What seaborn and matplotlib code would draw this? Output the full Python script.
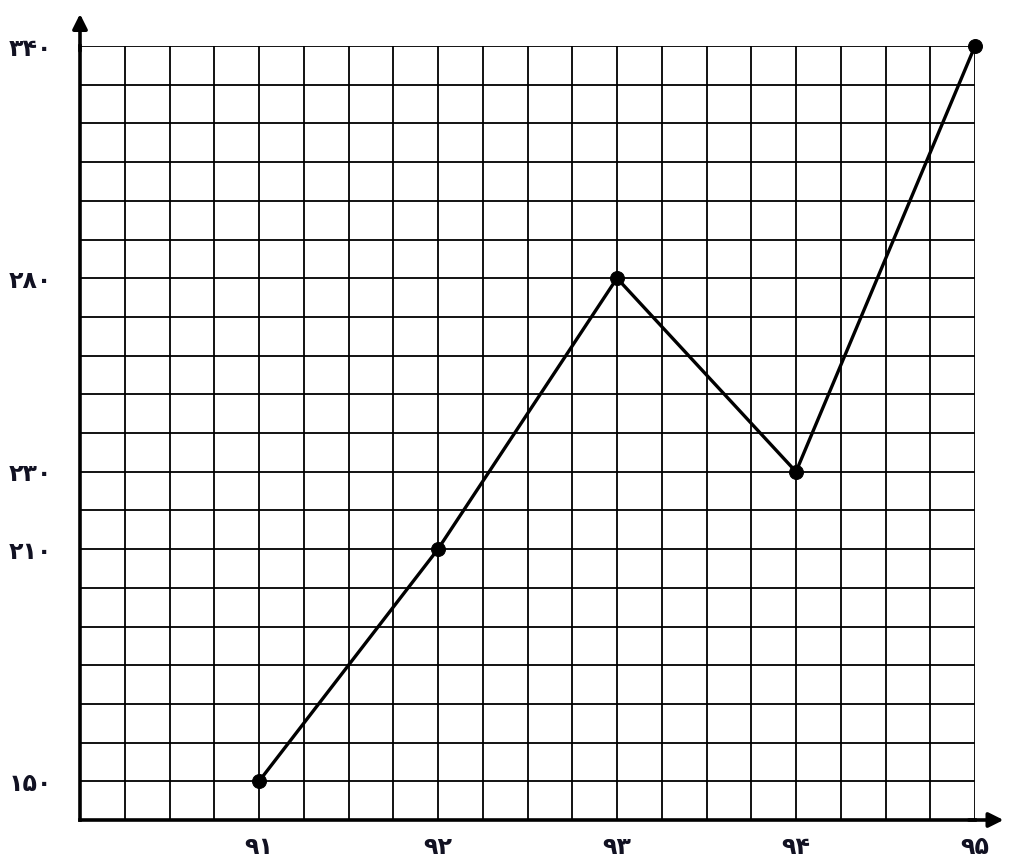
import matplotlib
matplotlib.use("Agg")
import matplotlib.pyplot as plt
import seaborn as sns
import pandas as pd
import numpy as np

years = [91, 92, 93, 94, 95]
values = [150, 210, 280, 230, 340]
x_labels = ["۹۱", "۹۲", "۹۳", "۹۴", "۹۵"]
y_ticks = [150, 210, 230, 280, 340]
y_labels = ["۱۵۰", "۲۱۰", "۲۳۰", "۲۸۰", "۳۴۰"]

sns.set_style("white")
plt.rcParams['font.family'] = ['DejaVu Sans']

df = pd.DataFrame({"year": years, "value": values})

fig = plt.figure(figsize=(10.10, 8.66), dpi=100)
ax = fig.add_axes([80/1010, 46/866, 895/1010, 774/866])

ax.set_xlim(90, 95)
ax.set_ylim(140, 340)

# grid
ax.set_xticks(np.arange(90, 95.001, 0.25), minor=True)
ax.set_yticks(np.arange(140, 340.001, 10), minor=True)
ax.set_xticks(years)
ax.set_xticklabels(x_labels, fontsize=17, fontweight='bold', color='#111122')
ax.set_yticks(y_ticks)
ax.set_yticklabels(y_labels, fontsize=17, fontweight='bold', color='#111122')
ax.grid(which='both', color='black', linewidth=1.3)
ax.tick_params(which='both', length=0)
ax.tick_params(axis='x', pad=11)
ax.tick_params(axis='y', pad=20)

for s in ['top', 'right']:
    ax.spines[s].set_visible(False)
for s in ['left', 'bottom']:
    ax.spines[s].set_linewidth(2.6)
    ax.spines[s].set_color('black')

sns.lineplot(data=df, x="year", y="value", ax=ax, color='black', linewidth=2.4,
             marker='o', markersize=10, markeredgecolor='black', clip_on=False, zorder=5)
ax.set_xlabel("")
ax.set_ylabel("")

# axis arrows
ax.annotate("", xy=(0, 1.045), xycoords='axes fraction', xytext=(0, 0.99),
            arrowprops=dict(arrowstyle='-|>', color='black', lw=2.6, mutation_scale=22),
            annotation_clip=False)
ax.annotate("", xy=(1.035, 0), xycoords='axes fraction', xytext=(0.99, 0),
            arrowprops=dict(arrowstyle='-|>', color='black', lw=2.6, mutation_scale=22),
            annotation_clip=False)

fig.savefig("out.png", dpi=100, facecolor='white')
